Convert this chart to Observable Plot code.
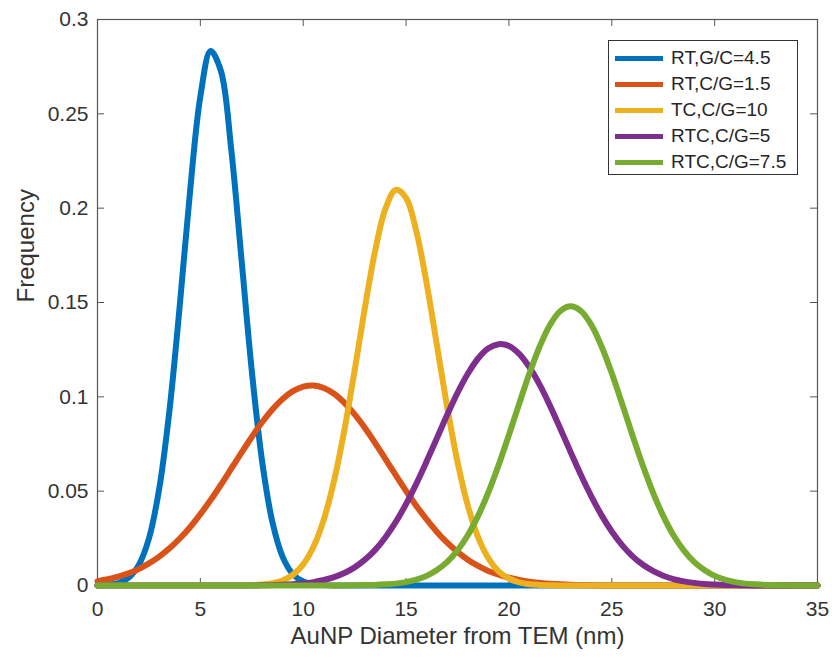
<!DOCTYPE html>
<html>
<head>
<meta charset="utf-8">
<script src="https://cdn.jsdelivr.net/npm/d3@7"></script>
<script src="https://cdn.jsdelivr.net/npm/@observablehq/plot@0.6"></script>
<style>
  body { margin: 0; background: #fff; font-family: "Liberation Sans", Arial, sans-serif; }
  #wrap { position: relative; width: 832px; height: 658px; }
  #legend { position: absolute; left: 608px; top: 40px; width: 190px; height: 135px;
            border: 1px solid #333; background: #fff; box-sizing: border-box; }
  .row { position: absolute; left: 0; height: 26px; display: flex; align-items: center; }
  .sw { width: 48px; height: 5px; margin-left: 6px; margin-right: 8px; }
  .lb { font-size: 19px; color: #262626; white-space: nowrap; }
</style>
</head>
<body>
<div id="wrap"></div>
<script>
// Sample positions (nm)
const xs = [0,0.5,1,1.5,2,2.5,3,3.5,4,4.5,5,5.5,6,6.5,7,7.5,8,8.5,9,9.5,10,10.5,11,11.5,12,12.5,13,13.5,14,14.5,15,15.5,16,16.5,17,17.5,18,18.5,19,19.5,20,20.5,21,21.5,22,22.5,23,23.5,24,24.5,25,25.5,26,26.5,27,27.5,28,28.5,29,29.5,30,30.5,31,31.5,32,32.5,33,33.5,34,34.5,35];

const seriesNames = ["RT,G/C=4.5", "RT,C/G=1.5", "TC,C/G=10", "RTC,C/G=5", "RTC,C/G=7.5"];
const seriesColors = ["#0072BD", "#D95319", "#EDB120", "#7E2F8E", "#77AC30"];

const rtGC45 = [0.0001,0.0004,0.0013,0.0040,0.0107,0.0249,0.0513,0.0930,0.1485,0.2090,0.2592,0.2833,0.2727,0.2313,0.1729,0.1138,0.0660,0.0337,0.0152,0.0060,0.0021,0.0006,0.0002,
  0,0,0,0,0,0,0,0,0,0,0,0,0,0,0,0,0,0,0,0,0,0,0,0,0,0,0,0,0,0,0,0,0,0,0,0,0,0,0,0,0,0,0,0,0,0,0,0];
const rtCG15 = [0.0023,0.0033,0.0047,0.0064,0.0087,0.0117,0.0153,0.0197,0.0249,0.0309,0.0378,0.0453,0.0534,0.0619,0.0704,0.0787,0.0865,0.0933,0.0989,0.1030,0.1054,0.1060,0.1047,0.1016,0.0968,0.0907,0.0835,0.0755,0.0670,0.0585,0.0501,0.0422,0.0350,0.0284,0.0227,0.0178,0.0137,0.0104,0.0077,0.0057,0.0041,0.0029,0.0020,0.0014,0.0009,0.0006,0.0004,0.0002,0.0001,
  0,0,0,0,0,0,0,0,0,0,0,0,0,0,0,0,0,0,0,0,0,0];
const tcCG10 = [0,0,0,0,0,0,0,0,0,0,0,0,0,0,
  0.0001,0.0002,0.0005,0.0012,0.0027,0.0057,0.0112,0.0205,0.0349,0.0555,0.0823,0.1140,0.1473,0.1776,0.1998,0.2097,0.2054,0.1877,0.1601,0.1274,0.0946,0.0655,0.0424,0.0256,0.0144,0.0075,0.0037,0.0017,0.0007,0.0003,0.0001,
  0,0,0,0,0,0,0,0,0,0,0,0,0,0,0,0,0,0,0,0,0,0,0,0,0,0];
const rtcCG5 = [0,0,0,0,0,0,0,0,0,0,0,0,0,0,0,0,
  0.0001,0.0002,0.0004,0.0007,0.0011,0.0018,0.0029,0.0044,0.0066,0.0096,0.0137,0.0189,0.0256,0.0337,0.0432,0.0540,0.0658,0.0781,0.0905,0.1021,0.1122,0.1203,0.1257,0.1279,0.1270,0.1228,0.1157,0.1063,0.0952,0.0831,0.0707,0.0586,0.0474,0.0373,0.0286,0.0214,0.0156,0.0111,0.0077,0.0052,0.0034,0.0022,0.0014,0.0008,0.0005,0.0003,0.0002,0.0001,
  0,0,0,0,0,0,0];
const rtcCG75 = [0,0,0,0,0,0,0,0,0,0,0,0,0,0,0,0,0,0,0,0,0,0,0,0,0,
  0.0001,0.0002,0.0003,0.0006,0.0010,0.0018,0.0031,0.0051,0.0082,0.0125,0.0186,0.0266,0.0369,0.0494,0.0639,0.0798,0.0964,0.1125,0.1268,0.1382,0.1455,0.1480,0.1455,0.1382,0.1268,0.1125,0.0964,0.0798,0.0639,0.0494,0.0369,0.0266,0.0186,0.0125,0.0082,0.0051,0.0031,0.0018,0.0010,0.0006,0.0003,0.0002,0.0001,
  0,0,0];

const xTicks = [0, 5, 10, 15, 20, 25, 30, 35];
const yTicks = [0, 0.05, 0.1, 0.15, 0.2, 0.25, 0.3];
const xLabel = "AuNP Diameter from TEM (nm)";
const yLabel = "Frequency";

const allSeries = [rtGC45, rtCG15, tcCG10, rtcCG5, rtcCG75];
const rows = allSeries.flatMap((vals, k) => xs.map((x, i) => ({series: seriesNames[k], x, y: vals[i]})));

const axisColor = "#555";
const chart = Plot.plot({
  width: 832,
  height: 658,
  marginLeft: 97,
  marginRight: 15,
  marginTop: 19,
  marginBottom: 73,
  style: {fontFamily: "'Liberation Sans', Arial, sans-serif", fontSize: "21px", color: "#333", background: "white", overflow: "visible"},
  x: {domain: [0, 35]},
  y: {domain: [0, 0.3]},
  color: {domain: seriesNames, range: seriesColors},
  marks: [
    Plot.frame({stroke: axisColor, strokeWidth: 1.2}),
    Plot.tickX(xTicks, {x: d => d, stroke: axisColor, insetTop: 559}),
    Plot.tickX(xTicks, {x: d => d, stroke: axisColor, insetBottom: 559}),
    Plot.tickY(yTicks, {y: d => d, stroke: axisColor, insetRight: 713}),
    Plot.tickY(yTicks, {y: d => d, stroke: axisColor, insetLeft: 713}),
    Plot.axisX(xTicks, {tickSize: 0, tickPadding: 16, label: null, fontSize: 21}),
    Plot.axisY(yTicks, {tickSize: 0, tickPadding: 9, label: null, fontSize: 21, tickFormat: d => String(d)}),
    Plot.text([xLabel], {frameAnchor: "bottom", dy: 58, fontSize: 24, fill: "#333"}),
    Plot.text([yLabel], {frameAnchor: "left", rotate: -90, dx: -71, fontSize: 24, fill: "#333"}),
    Plot.line(rows, {x: "x", y: "y", z: "series", stroke: "series", strokeWidth: 6, curve: "catmull-rom", strokeLinejoin: "round"})
  ]
});

const wrap = document.getElementById("wrap");
wrap.appendChild(chart);

const legend = document.createElement("div");
legend.id = "legend";
seriesNames.forEach((name, i) => {
  const row = document.createElement("div");
  row.className = "row";
  row.style.top = (4 + i * 26) + "px";
  const sw = document.createElement("div");
  sw.className = "sw";
  sw.style.background = seriesColors[i];
  const lb = document.createElement("span");
  lb.className = "lb";
  lb.textContent = name;
  row.appendChild(sw);
  row.appendChild(lb);
  legend.appendChild(row);
});
wrap.appendChild(legend);
</script>
</body>
</html>
